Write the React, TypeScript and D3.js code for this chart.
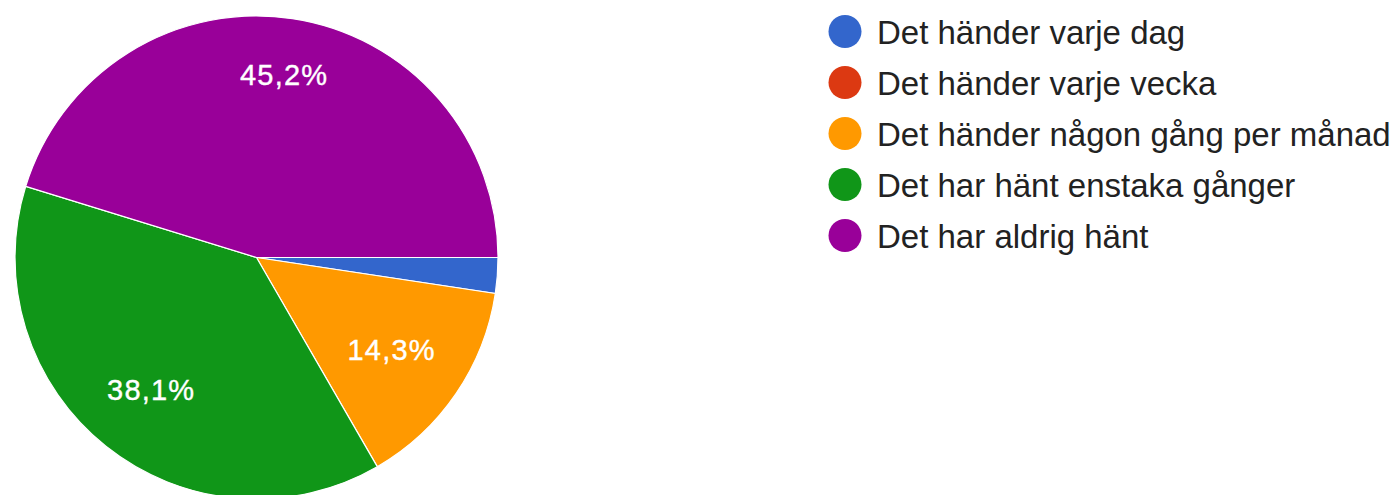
import React, { useEffect, useRef } from "react";
import * as d3 from "d3";

const categories = [
  "Det händer varje dag",
  "Det händer varje vecka",
  "Det händer någon gång per månad",
  "Det har hänt enstaka gånger",
  "Det har aldrig hänt",
];
const counts = [1, 0, 6, 16, 19];
const colors = ["#3366cc", "#dc3912", "#ff9900", "#109618", "#990099"];

const W = 1395;
const H = 495;

export default function App() {
  const ref = useRef<SVGSVGElement>(null);

  useEffect(() => {
    const svg = d3.select(ref.current);
    svg.selectAll("*").remove();
    const cx = 256.5, cy = 257.5, R = 241.5;
    const total = d3.sum(counts);
    const pie = d3
      .pie<number>()
      .sort(null)
      .startAngle(Math.PI / 2)
      .endAngle(Math.PI / 2 + 2 * Math.PI)(counts);
    const arc = d3.arc<d3.PieArcDatum<number>>().innerRadius(0).outerRadius(R);
    const g = svg.append("g").attr("transform", `translate(${cx},${cy})`);
    g.selectAll("path.slice")
      .data(pie.filter((d) => d.value > 0))
      .join("path")
      .attr("class", "slice")
      .attr("d", arc as any)
      .attr("fill", (d) => colors[d.index])
      .attr("stroke", "#ffffff")
      .attr("stroke-width", 1.2);

    const fs = 29;
    const capH = fs * 0.72;
    const rMax = R * 0.855;
    pie.forEach((d) => {
      const frac = d.value / total;
      if (frac < 0.05) return;
      const label = d3.format(".1f")(frac * 100).replace(".", ",") + "%";
      const t = g
        .append("text")
        .attr("font-family", "'Liberation Sans', Arial, sans-serif")
        .attr("font-size", fs)
        .attr("letter-spacing", 1.2)
        .attr("fill", "#ffffff")
        .attr("stroke", "#ffffff")
        .attr("stroke-width", 0.4)
        .attr("text-anchor", "middle")
        .text(label);
      const w = (t.node() as SVGTextElement).getComputedTextLength();
      const a = (d.startAngle + d.endAngle) / 2;
      const ux = Math.sin(a), uy = -Math.cos(a);
      const hx = Math.sign(ux) * w / 2, hy = Math.sign(uy) * capH / 2;
      const b = 2 * (ux * hx + uy * hy);
      const c = hx * hx + hy * hy - rMax * rMax;
      const s = (-b + Math.sqrt(b * b - 4 * c)) / 2;
      t.attr("x", s * ux).attr("y", s * uy + capH / 2);
    });

    const lg = svg.append("g");
    const rowY = d3.scalePoint<string>().domain(categories).range([31.5, 235.5]);
    categories.forEach((c, i) => {
      const y = rowY(c)!;
      lg.append("circle").attr("cx", 845).attr("cy", y).attr("r", 16.5).attr("fill", colors[i]);
      lg.append("text")
        .attr("x", 877)
        .attr("y", y + 12)
        .attr("font-family", "'Liberation Sans', Arial, sans-serif")
        .attr("font-size", 33)
        .attr("fill", "#222222")
        .text(c);
    });
  }, []);

  return (
    <svg
      ref={ref}
      width={W}
      height={H}
      style={{ position: "absolute", left: 0, top: 0, background: "#ffffff" }}
    />
  );
}
